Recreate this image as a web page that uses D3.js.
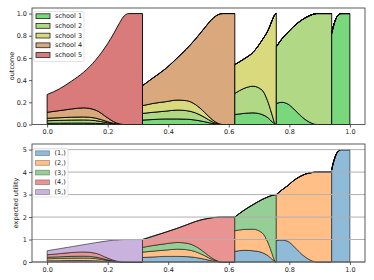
<!DOCTYPE html>
<html>
<head>
<meta charset="utf-8">
<script src="https://cdn.jsdelivr.net/npm/d3@7"></script>
<style>
  body { margin: 0; background: #fff; }
  svg { display: block; font-family: "DejaVu Sans", sans-serif; }
</style>
</head>
<body>
<svg width="374" height="280"></svg>
<script>
// sample x positions, one array per segment (value jumps happen between segments)
const seg1X = [0, 0.04, 0.08, 0.12, 0.16, 0.2, 0.22, 0.24, 0.255, 0.27, 0.315];
const seg2X = [0.315, 0.35, 0.39, 0.43, 0.46, 0.49, 0.52, 0.545, 0.565, 0.58, 0.62];
const seg3X = [0.62, 0.65, 0.68, 0.71, 0.73, 0.745, 0.752, 0.757];
const seg4X = [0.757, 0.775, 0.795, 0.815, 0.835, 0.855, 0.875, 0.89, 0.94];
const seg5X = [0.94, 0.945, 0.95, 0.955, 0.962, 0.97, 1.0];

// outcome per school (rows: school 1..5)
const outcomeSeg1 = [
    [0.011, 0.012, 0.013, 0.013, 0.011, 0.005, 0.002, 0.0005, 0, 0, 0],
    [0.023, 0.025, 0.027, 0.028, 0.024, 0.010, 0.004, 0.001, 0, 0, 0],
    [0.022, 0.024, 0.026, 0.027, 0.023, 0.010, 0.004, 0.001, 0, 0, 0],
    [0.054, 0.064, 0.074, 0.082, 0.072, 0.035, 0.015, 0.0025, 0, 0, 0],
    [0.16, 0.195, 0.25, 0.32, 0.45, 0.67, 0.795, 0.915, 0.98, 1.0, 1.0]
];
const outcomeSeg2 = [
    [0.04, 0.045, 0.05, 0.05, 0.048, 0.04, 0.025, 0.01, 0.002, 0, 0],
    [0.06, 0.065, 0.07, 0.08, 0.077, 0.065, 0.04, 0.015, 0.003, 0, 0],
    [0.07, 0.08, 0.085, 0.09, 0.09, 0.075, 0.045, 0.02, 0.005, 0, 0],
    [0.18, 0.23, 0.295, 0.38, 0.465, 0.59, 0.76, 0.905, 0.98, 1.0, 1.0],
    [0, 0, 0, 0, 0, 0, 0, 0, 0, 0, 0]
];
const outcomeSeg3 = [
    [0.09, 0.10, 0.105, 0.09, 0.06, 0.02, 0.003, 0],
    [0.19, 0.225, 0.24, 0.22, 0.14, 0.05, 0.007, 0],
    [0.26, 0.265, 0.305, 0.45, 0.65, 0.88, 0.98, 1.0],
    [0, 0, 0, 0, 0, 0, 0, 0],
    [0, 0, 0, 0, 0, 0, 0, 0]
];
const outcomeSeg4 = [
    [0.19, 0.2, 0.185, 0.14, 0.085, 0.04, 0.01, 0, 0],
    [0.51, 0.57, 0.645, 0.745, 0.845, 0.925, 0.98, 1.0, 1.0],
    [0, 0, 0, 0, 0, 0, 0, 0, 0],
    [0, 0, 0, 0, 0, 0, 0, 0, 0],
    [0, 0, 0, 0, 0, 0, 0, 0, 0]
];
const outcomeSeg5 = [
    [0.82, 0.88, 0.925, 0.96, 0.985, 1.0, 1.0],
    [0, 0, 0, 0, 0, 0, 0],
    [0, 0, 0, 0, 0, 0, 0],
    [0, 0, 0, 0, 0, 0, 0],
    [0, 0, 0, 0, 0, 0, 0]
];

// expected utility per choice (rows: (1,)..(5,))
const utilitySeg1 = [
    [0.055, 0.06, 0.065, 0.065, 0.055, 0.025, 0.01, 0.0025, 0, 0, 0],
    [0.09, 0.10, 0.108, 0.112, 0.096, 0.04, 0.016, 0.004, 0, 0, 0],
    [0.066, 0.072, 0.078, 0.081, 0.069, 0.03, 0.012, 0.003, 0, 0, 0],
    [0.11, 0.14, 0.17, 0.19, 0.17, 0.08, 0.035, 0.006, 0, 0, 0],
    [0.179, 0.218, 0.259, 0.322, 0.47, 0.765, 0.897, 0.9745, 1.0, 1.0, 1.0]
];
const utilitySeg2 = [
    [0.2, 0.225, 0.25, 0.25, 0.24, 0.2, 0.125, 0.05, 0.01, 0, 0],
    [0.24, 0.26, 0.28, 0.32, 0.31, 0.26, 0.16, 0.06, 0.012, 0, 0],
    [0.21, 0.25, 0.28, 0.3, 0.29, 0.24, 0.14, 0.06, 0.015, 0, 0],
    [0.35, 0.415, 0.51, 0.63, 0.81, 1.1, 1.485, 1.8, 1.958, 2.0, 2.0],
    [0, 0, 0, 0, 0, 0, 0, 0, 0, 0, 0]
];
const utilitySeg3 = [
    [0.47, 0.52, 0.5, 0.42, 0.28, 0.1, 0.015, 0],
    [0.92, 0.93, 0.96, 0.88, 0.57, 0.2, 0.03, 0],
    [0.61, 0.85, 1.09, 1.48, 2.05, 2.67, 2.945, 3.0],
    [0, 0, 0, 0, 0, 0, 0, 0],
    [0, 0, 0, 0, 0, 0, 0, 0]
];
const utilitySeg4 = [
    [0.95, 0.98, 0.92, 0.7, 0.42, 0.2, 0.05, 0, 0],
    [2.05, 2.22, 2.48, 2.93, 3.38, 3.72, 3.93, 4.0, 4.0],
    [0, 0, 0, 0, 0, 0, 0, 0, 0],
    [0, 0, 0, 0, 0, 0, 0, 0, 0],
    [0, 0, 0, 0, 0, 0, 0, 0, 0]
];
const utilitySeg5 = [
    [4.1, 4.4, 4.62, 4.8, 4.93, 5.0, 5.0],
    [0, 0, 0, 0, 0, 0, 0],
    [0, 0, 0, 0, 0, 0, 0],
    [0, 0, 0, 0, 0, 0, 0],
    [0, 0, 0, 0, 0, 0, 0]
];

const schools = ["school 1", "school 2", "school 3", "school 4", "school 5"];
const choices = ["(1,)", "(2,)", "(3,)", "(4,)", "(5,)"];
const xTicks = [0, 0.2, 0.4, 0.6, 0.8, 1.0];
const outcomeTicks = [0, 0.2, 0.4, 0.6, 0.8, 1.0];
const utilityTicks = [0, 1, 2, 3, 4, 5];

const outcomeColors = ["#7ad87c", "#b0d885", "#d9d97e", "#d9a87c", "#d97a7b"];
const utilityColors = ["#8fbbd9", "#ffbf86", "#95cf95", "#ea9393", "#c9b3de"];

const segXs = [seg1X, seg2X, seg3X, seg4X, seg5X];
const outcomeSegs = [outcomeSeg1, outcomeSeg2, outcomeSeg3, outcomeSeg4, outcomeSeg5];
const utilitySegs = [utilitySeg1, utilitySeg2, utilitySeg3, utilitySeg4, utilitySeg5];

const svg = d3.select("svg");
const left = 32, right = 365;
const xScale = d3.scaleLinear().domain([-0.05, 1.05]).range([left, right]);
const yTop = d3.scaleLinear().domain([0, 1.05]).range([124.5, 8]);
const yBot = d3.scaleLinear().domain([0, 5.25]).range([262, 144]);

function drawAreas(g, y, segs, keys, colors, stroke) {
    segs.forEach((vals, i) => {
        const rows = segXs[i].map((x, j) => {
            const r = {x: x};
            keys.forEach((k, s) => r[k] = vals[s][j]);
            return r;
        });
        const series = d3.stack().keys(keys)(rows);
        const area = d3.area()
            .x(d => xScale(d.data.x))
            .y0(d => y(d[0]))
            .y1(d => y(d[1]))
            .curve(d3.curveMonotoneX);
        g.append("g").selectAll("path")
            .data(series)
            .join("path")
            .attr("d", area)
            .attr("fill", (d, s) => colors[s])
            .attr("stroke", stroke)
            .attr("stroke-width", 0.9)
            .attr("stroke-linejoin", "round");
    });
}

function drawAxes(g, y, top, bottom, yTicks, fmt) {
    const xAxisG = g.append("g")
        .attr("transform", `translate(0,${bottom})`)
        .call(d3.axisBottom(xScale).tickValues(xTicks).tickFormat(d3.format(".1f")).tickSize(3).tickPadding(2));
    const yAxisG = g.append("g")
        .attr("transform", `translate(${left},0)`)
        .call(d3.axisLeft(y).tickValues(yTicks).tickFormat(fmt).tickSize(3).tickPadding(2));
    [xAxisG, yAxisG].forEach(a => {
        a.select(".domain").remove();
        a.selectAll("line").attr("stroke", "#333").attr("stroke-width", 0.8);
        a.selectAll("text").attr("fill", "#222").style("font-size", "6.5px")
            .style("font-family", "'DejaVu Sans', sans-serif");
    });
    g.append("rect")
        .attr("x", left).attr("y", top)
        .attr("width", right - left).attr("height", bottom - top)
        .attr("fill", "none").attr("stroke", "#333").attr("stroke-width", 0.8);
}

function drawLegend(g, x0, y0, w, h, labels, colors, stroke) {
    const lg = g.append("g");
    lg.append("rect")
        .attr("x", x0).attr("y", y0).attr("width", w).attr("height", h)
        .attr("rx", 1.5)
        .attr("fill", "#fff").attr("fill-opacity", 0.85)
        .attr("stroke", "#d8d8d8").attr("stroke-width", 0.7);
    labels.forEach((t, i) => {
        const cy = y0 + 4.6 + i * 9.7;
        lg.append("rect")
            .attr("x", x0 + 2.5).attr("y", cy - 2.3)
            .attr("width", 14).attr("height", 4.8)
            .attr("fill", colors[i]).attr("stroke", stroke).attr("stroke-width", 0.8);
        lg.append("text")
            .attr("x", x0 + 21.5).attr("y", cy)
            .attr("dy", "0.35em")
            .style("font-size", "6.5px")
            .attr("fill", "#222")
            .text(t);
    });
}

// top panel: outcome
const gTop = svg.append("g");
drawAreas(gTop, yTop, outcomeSegs, schools, outcomeColors, "#000");
drawAxes(gTop, yTop, 8, 124.5, outcomeTicks, d3.format(".1f"));
drawLegend(gTop, 33.5, 11.5, 50.5, 50, schools, outcomeColors, "#222");
gTop.append("text")
    .attr("transform", "translate(11.5,66) rotate(-90)")
    .attr("text-anchor", "middle")
    .attr("dy", "0.35em")
    .style("font-size", "6.5px")
    .attr("fill", "#222")
    .text("outcome");

// bottom panel: expected utility
const gBot = svg.append("g");
drawAreas(gBot, yBot, utilitySegs, choices, utilityColors, "rgba(0,0,0,0.6)");
gBot.append("g")
    .selectAll("line")
    .data(utilityTicks)
    .join("line")
    .attr("x1", left).attr("x2", right)
    .attr("y1", d => yBot(d)).attr("y2", d => yBot(d))
    .attr("stroke", "#b0b0b0").attr("stroke-width", 1);
drawAxes(gBot, yBot, 144, 262, utilityTicks, d3.format("d"));
drawLegend(gBot, 33, 148.5, 35, 48.5, choices, utilityColors, "rgba(0,0,0,0.35)");
gBot.append("text")
    .attr("transform", "translate(16,203) rotate(-90)")
    .attr("text-anchor", "middle")
    .attr("dy", "0.35em")
    .style("font-size", "6.5px")
    .attr("fill", "#222")
    .text("expected utility");
</script>
</body>
</html>
